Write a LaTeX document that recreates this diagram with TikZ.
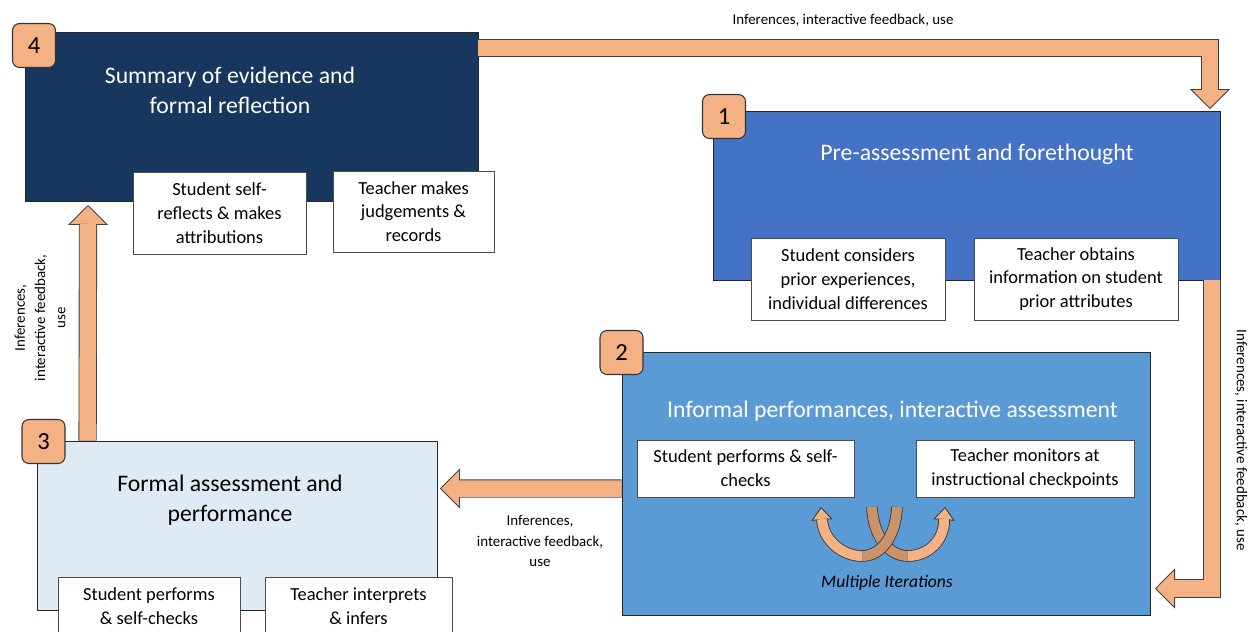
\documentclass[tikz,border=0pt]{standalone}
\usepackage{fontspec}
\setmainfont{Carlito}
\usepackage{tikz}
\usetikzlibrary{arrows.meta}
\definecolor{navy}{HTML}{17375E}
\definecolor{stageblue}{HTML}{4472C4}
\definecolor{midblue}{HTML}{5B9BD5}
\definecolor{paleblue}{HTML}{DEEBF7}
\definecolor{peach}{HTML}{F4B183}
\definecolor{loopbrown}{HTML}{C9936B}

\begin{document}
\begin{tikzpicture}[
      x=0.02cm, y=-0.02cm,
      font=\fontsize{10.5}{13.5}\selectfont,
      stage/.style={rectangle, draw=black!85, line width=0.5pt},
      title/.style={align=center, font=\fontsize{13.5}{17}\selectfont},
      task/.style={rectangle, draw=black!70, fill=white, align=center,
                   line width=0.5pt, inner sep=2pt},
      badge/.style={rectangle, rounded corners=4pt, draw=black!80, fill=peach,
                    line width=0.6pt, minimum width=0.86cm, minimum height=0.88cm,
                    font=\fontsize{14}{14}\selectfont},
      flow/.style={draw=black!75, line width=0.5pt, double=peach, double distance=0.33cm},
      bighead/.style={draw=black!75, line width=0.5pt,
                      -{Triangle[length=0.4cm, width=0.8cm, fill=peach]}},
      turn/.style={draw=black!80, line width=0.45pt, double distance=0.2cm},
      turnhead/.style={draw=black!80, line width=0.45pt,
                       -{Triangle[length=0.26cm, width=0.42cm, fill=peach]}},
      lbl/.style={font=\fontsize{8.5}{11.5}\selectfont, align=center},
    ]
    \useasboundingbox (0,0) rectangle (1255,632);

    % stages
    \node[stage, fill=navy, minimum width=9.06cm, minimum height=3.38cm]       (s4) at (251.5,116.5) {};
    \node[stage, fill=stageblue, minimum width=10.14cm, minimum height=3.38cm] (s1) at (966.5,195.5) {};
    \node[stage, fill=midblue, minimum width=10.56cm, minimum height=5.26cm]   (s2) at (886,483.5) {};
    \node[stage, fill=paleblue, minimum width=8cm, minimum height=3.38cm]      (s3) at (237,525.5) {};

    \node[title, text=white] (s4t) at (230,90)    {Summary of evidence and\\formal reflection};
    \node[title, text=white] (s1t) at (977,154)   {Pre-assessment and forethought};
    \node[title, text=white] (s2t) at (892.5,411) {Informal performances, interactive assessment};
    \node[title]             (s3t) at (230,500)   {Formal assessment and\\performance};

    % block arrows
    \coordinate (t1) at (1210,109);
    \coordinate (t2) at (1155,588.5);
    \coordinate (t3) at (440,488.5);
    \coordinate (t4) at (88,205);

    \draw[bighead] ([yshift=0.4cm]t1) -- (t1);
    \draw[flow] ([yshift=-0.33cm]s4.north east) -| ([yshift=0.38cm]t1);
    \draw[bighead] ([xshift=0.4cm]t2) -- (t2);
    \draw[flow] ([xshift=-0.17cm]s1.south east) |- ([xshift=0.38cm]t2);
    \draw[bighead] ([xshift=0.4cm]t3) -- (t3);
    \draw[flow] ([yshift=-0.1cm]s2.west) -- ([xshift=0.38cm]t3);
    \draw[bighead] ([yshift=-0.4cm]t4) -- (t4);
    \draw[flow] ([xshift=1.02cm]s3.north west) -- ([yshift=-0.38cm]t4);

    \node[lbl] (l1) at (843,20) {Inferences, interactive feedback, use};
    \node[lbl, rotate=-90] (l2) at (1241,440) {Inferences, interactive feedback, use};
    \node[lbl] (l3) at (540,541) {Inferences,\\interactive feedback,\\use};
    \node[lbl, rotate=90] (l4) at (40,318) {Inferences,\\interactive feedback,\\use};

    % tasks
    \node[task, minimum width=3.46cm, minimum height=1.64cm] (s4a) at (219.5,213) {Student self-\\reflects \& makes\\attributions};
    \node[task, minimum width=3.22cm, minimum height=1.62cm] (s4b) at (413.5,211.5) {Teacher makes\\judgements \&\\records};
    \node[task, minimum width=3.88cm, minimum height=1.64cm] (s1a) at (848,279) {Student considers\\prior experiences,\\individual differences};
    \node[task, minimum width=4.08cm, minimum height=1.64cm] (s1b) at (1076,279) {Teacher obtains\\information on student\\prior attributes};
    \node[task, minimum width=4.34cm, minimum height=1.14cm] (s2a) at (745.5,468.5) {Student performs \& self-\\checks};
    \node[task, minimum width=4.36cm, minimum height=1.14cm] (s2b) at (1025,468.5) {Teacher monitors at\\instructional checkpoints};
    \node[task, minimum width=3.64cm, minimum height=1.16cm] (s3a) at (149,606) {Student performs\\\& self-checks};
    \node[task, minimum width=3.74cm, minimum height=1.16cm] (s3b) at (358.5,606) {Teacher interprets\\\& infers};

    % multiple iterations
    \draw[turn, double=loopbrown] (872,507) .. controls (873,535) and (888,556) .. (908,556);
    \draw[turn, double=loopbrown] (897,507) .. controls (896,535) and (882,556) .. (862,556);
    \draw[turnhead] (822,520) -- (821,507);
    \draw[turn, double=peach] (862,556) .. controls (842,556) and (823,540) .. (822,519);
    \draw[turnhead] (944,520) -- (945,507);
    \draw[turn, double=peach] (908,556) .. controls (928,556) and (945,540) .. (944,519);
    \node[font=\fontsize{10}{12}\selectfont\itshape] (iter) at (887,583) {Multiple Iterations};

    % badges
    \node[badge] (b4) at (34,45.5)    {4};
    \node[badge] (b1) at (724,116.5)  {1};
    \node[badge] (b2) at (621.5,352.5) {2};
    \node[badge] (b3) at (43.5,441.5) {3};
  \end{tikzpicture}
\end{document}
